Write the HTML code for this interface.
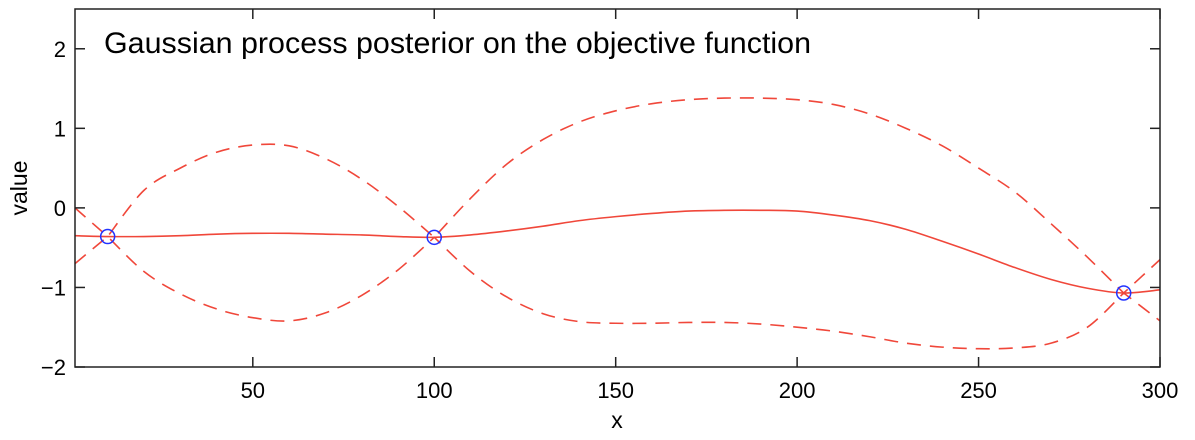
<!DOCTYPE html>
<html><head><meta charset="utf-8"><style>
body{margin:0;background:#fff}
text{font-family:"Liberation Sans",sans-serif;fill:#000}
</style></head><body>
<svg id="chart" width="1195" height="435" xmlns="http://www.w3.org/2000/svg">
<rect x="75" y="9" width="1085" height="358" fill="#fff"/>
<g id="marks"></g>
<g id="axes"></g>
<text x="104" y="53" font-size="30" textLength="707" lengthAdjust="spacingAndGlyphs">Gaussian process posterior on the objective function</text>
<text x="617" y="428" font-size="23" text-anchor="middle">x</text>
<text transform="translate(27,188) rotate(-90)" font-size="23" text-anchor="middle">value</text>
</svg>
<script>
const xs=[1,10,20,30,40,50,60,70,80,90,100,110,120,130,140,150,160,170,180,190,200,210,220,230,240,250,260,270,280,290,300];
const meanVals=[-0.35,-0.36,-0.36,-0.35,-0.33,-0.32,-0.32,-0.33,-0.34,-0.36,-0.37,-0.34,-0.29,-0.23,-0.16,-0.11,-0.07,-0.04,-0.03,-0.03,-0.04,-0.09,-0.16,-0.27,-0.42,-0.58,-0.75,-0.9,-1.01,-1.07,-1.03];
const upperVals=[0.0,-0.36,0.22,0.5,0.7,0.79,0.78,0.62,0.36,0.02,-0.37,0.12,0.55,0.86,1.08,1.22,1.31,1.36,1.38,1.38,1.36,1.3,1.18,1.0,0.78,0.5,0.2,-0.2,-0.62,-1.07,-0.65];
const lowerVals=[-0.7,-0.36,-0.8,-1.08,-1.27,-1.38,-1.42,-1.32,-1.1,-0.78,-0.37,-0.8,-1.12,-1.33,-1.43,-1.45,-1.45,-1.44,-1.44,-1.46,-1.5,-1.55,-1.62,-1.7,-1.75,-1.77,-1.76,-1.7,-1.5,-1.07,-1.42];
const obsX=[10,100,290];
const obsY=[-0.36,-0.37,-1.07];
const xTicks=[50,100,150,200,250,300];
const yTicks=[-2,-1,0,1,2];
const L=75,R=1160,T=9,B=367,X0=1,X1=300,Y0=-2,Y1=2.5;
const sx=v=>L+(v-X0)/(X1-X0)*(R-L);
const sy=v=>B-(v-Y0)/(Y1-Y0)*(B-T);
const NS="http://www.w3.org/2000/svg";
const marks=document.getElementById('marks'),axes=document.getElementById('axes');
function path(vals,split){
  const p=xs.map((x,i)=>[sx(x),sy(vals[i])]);
  const breaks=split?xs.map((x,i)=>obsX.includes(x)):xs.map(()=>false);
  let d=`M${p[0][0]},${p[0][1]}`;
  for(let i=0;i<p.length-1;i++){
    const a=(i>0&&!breaks[i])?p[i-1]:p[i],b=p[i],c=p[i+1],e=(i+2<p.length&&!breaks[i+1])?p[i+2]:p[i+1];
    const fa=(a===b)?2:1,fe=(e===c)?2:1;
    d+=` C${b[0]+(c[0]-a[0])/(6/fa)*(fa===2?0.5:1)},${b[1]+(c[1]-a[1])/(6/fa)*(fa===2?0.5:1)} ${c[0]-(e[0]-b[0])/(6/fe)*(fe===2?0.5:1)},${c[1]-(e[1]-b[1])/(6/fe)*(fe===2?0.5:1)} ${c[0]},${c[1]}`;
  }
  return d;
}
function addLine(vals,dash,name,split){
  const el=document.createElementNS(NS,'path');
  el.setAttribute('d',path(vals,split));el.setAttribute('fill','none');
  el.setAttribute('stroke','#f0473a');el.setAttribute('stroke-width','1.6');
  if(dash)el.setAttribute('stroke-dasharray','14,9');
  
  
  marks.appendChild(el);
}
addLine(upperVals,true,'upper-bound-line',true);
addLine(lowerVals,true,'lower-bound-line',true);
addLine(meanVals,false,'posterior-mean-line',false);
obsX.forEach((x,i)=>{
  const c=document.createElementNS(NS,'circle');
  c.setAttribute('cx',sx(x));c.setAttribute('cy',sy(obsY[i]));c.setAttribute('r','7');
  c.setAttribute('fill','none');c.setAttribute('stroke','#2233ff');c.setAttribute('stroke-width','1.5');
  
  
  marks.appendChild(c);
});
const frame=document.createElementNS(NS,'rect');
frame.setAttribute('x',L);frame.setAttribute('y',T);frame.setAttribute('width',R-L);frame.setAttribute('height',B-T);
frame.setAttribute('fill','none');frame.setAttribute('stroke','#222');frame.setAttribute('stroke-width','1.5');


axes.appendChild(frame);
xTicks.forEach(v=>{
  const x=sx(v);
  [[B,B-10],[T,T+10]].forEach(([a,b])=>{
    const l=document.createElementNS(NS,'line');
    l.setAttribute('x1',x);l.setAttribute('x2',x);l.setAttribute('y1',a);l.setAttribute('y2',b);l.setAttribute('stroke','#222');l.setAttribute('stroke-width','1.5');
    
    
    axes.appendChild(l);
  });
  const t=document.createElementNS(NS,'text');
  t.setAttribute('x',x);t.setAttribute('y',B+31);t.setAttribute('font-size','22');t.setAttribute('text-anchor','middle');
  t.textContent=v;
  
  
  axes.appendChild(t);
});
yTicks.forEach(v=>{
  const y=sy(v);
  [[L,L+10],[R,R-10]].forEach(([a,b])=>{
    const l=document.createElementNS(NS,'line');
    l.setAttribute('x1',a);l.setAttribute('x2',b);l.setAttribute('y1',y);l.setAttribute('y2',y);l.setAttribute('stroke','#222');l.setAttribute('stroke-width','1.5');
    
    
    axes.appendChild(l);
  });
  const t=document.createElementNS(NS,'text');
  t.setAttribute('x',L-9);t.setAttribute('y',y+8);t.setAttribute('font-size','22');t.setAttribute('text-anchor','end');
  t.textContent=v<0?'\u2212'+(-v):v;
  
  
  axes.appendChild(t);
});
</script>
</body></html>
